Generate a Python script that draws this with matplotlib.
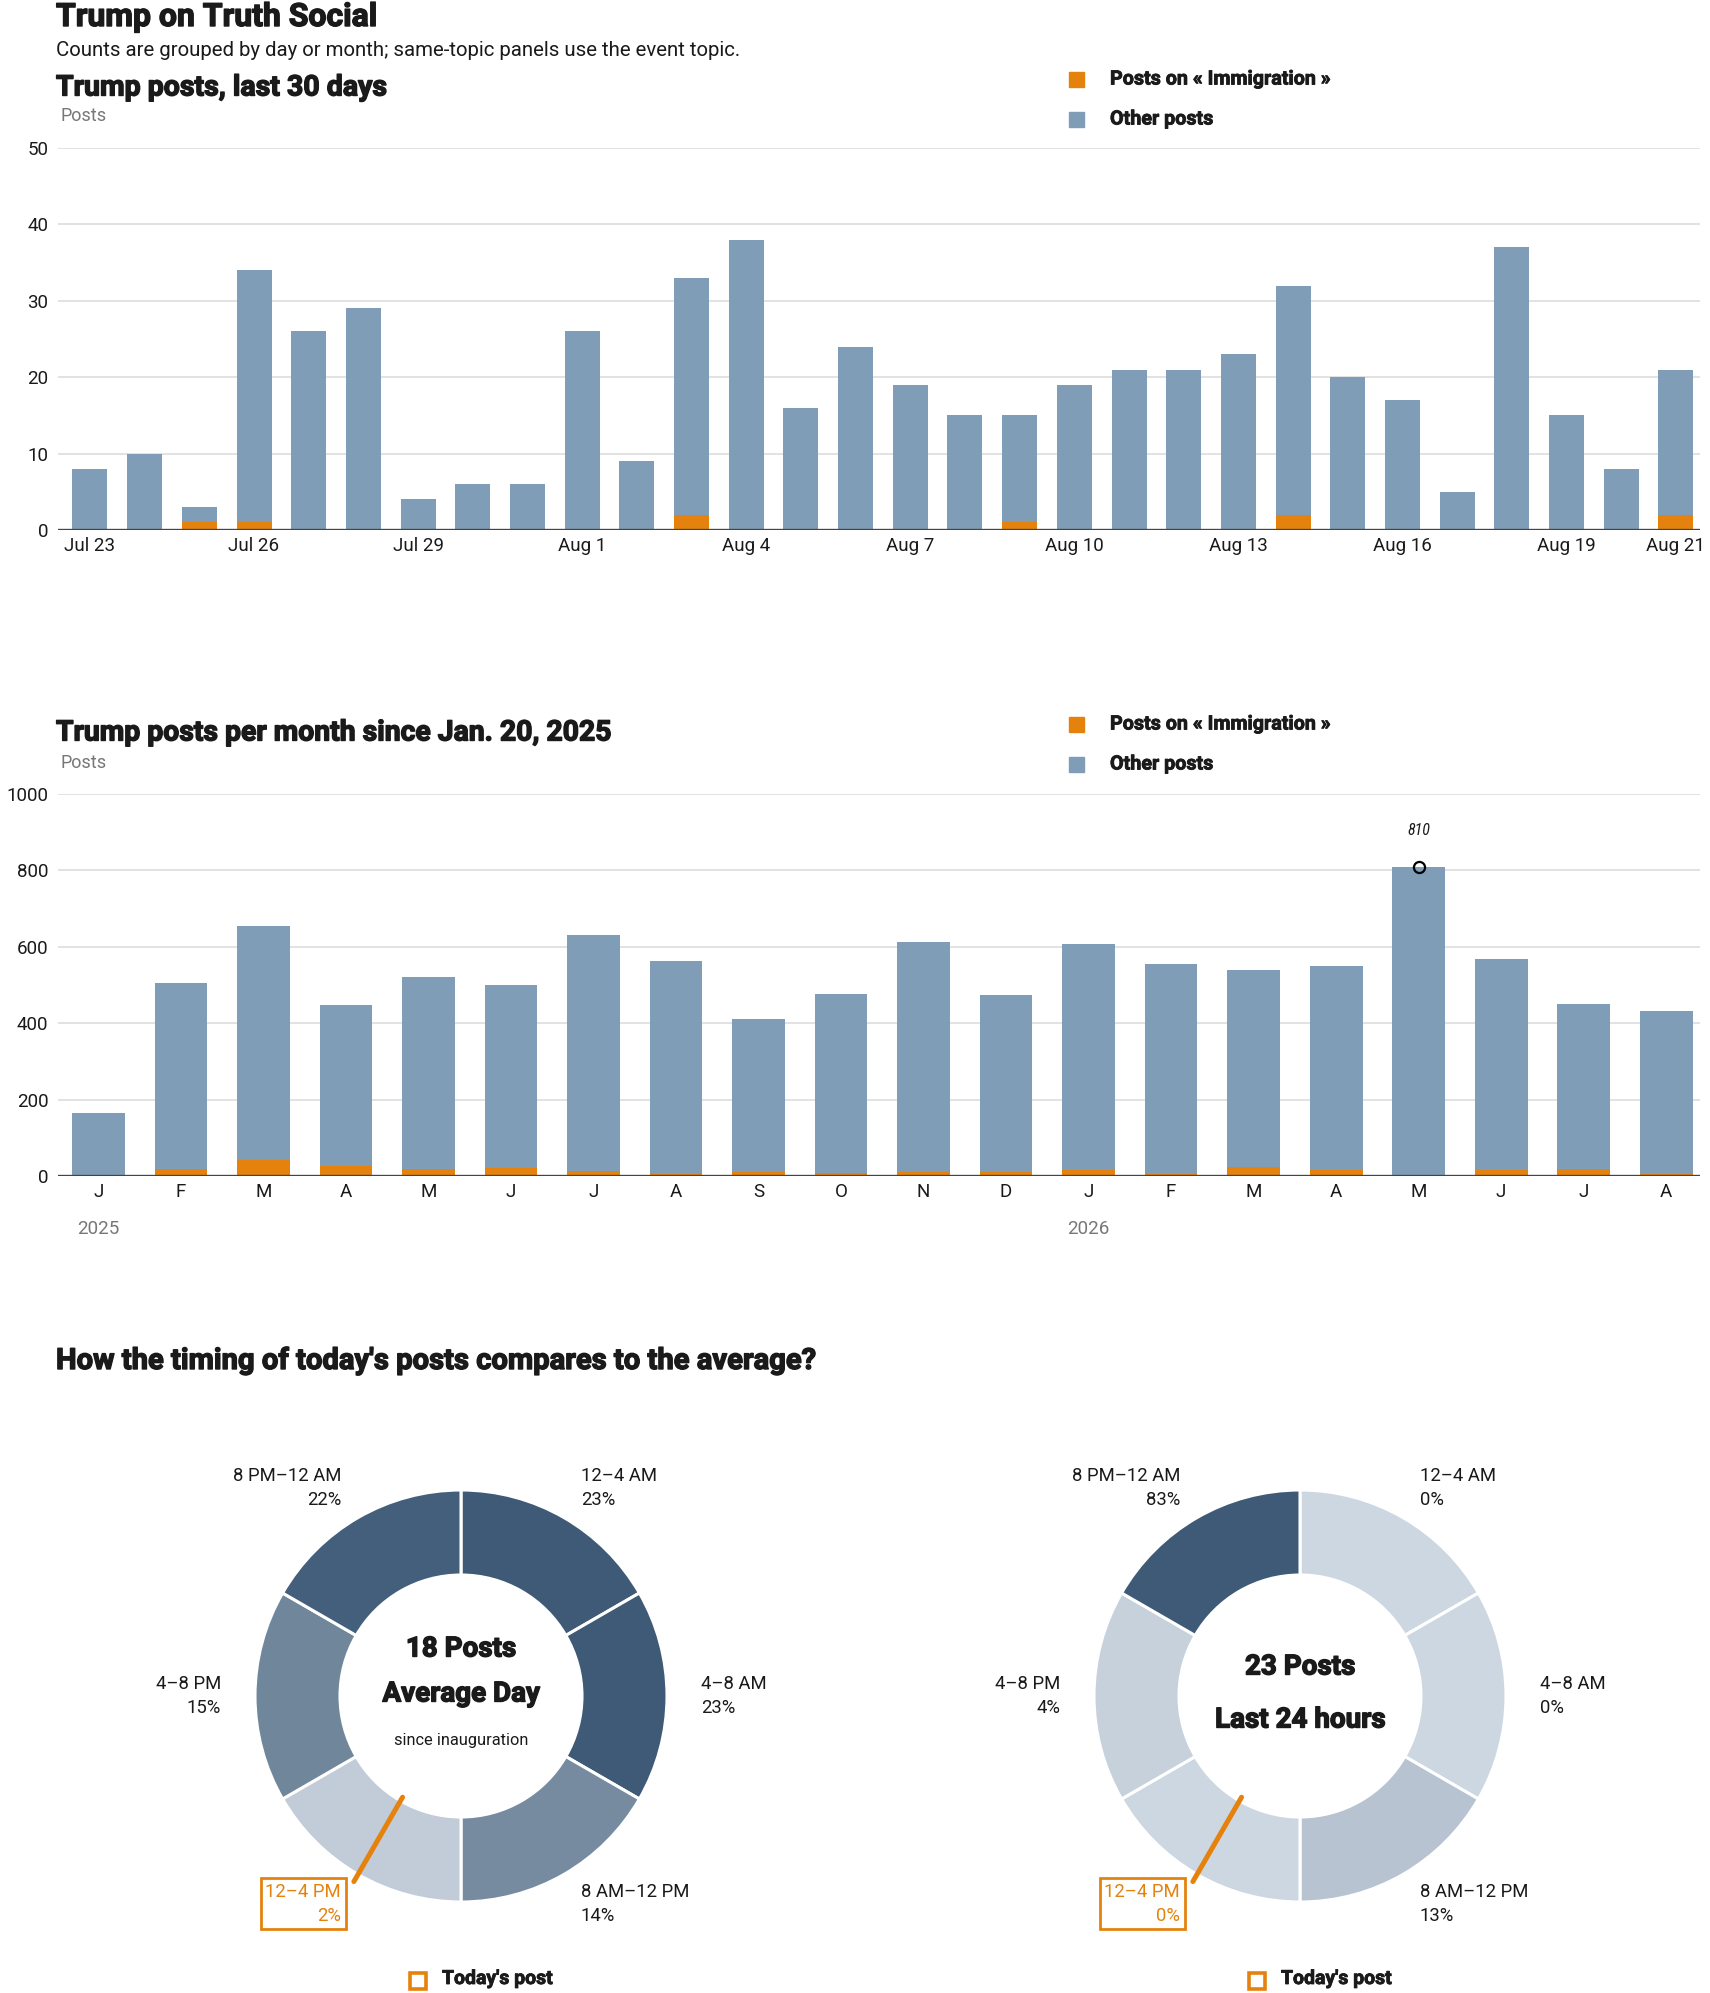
import numpy as np
import matplotlib
matplotlib.use("Agg")
import matplotlib.pyplot as plt
import matplotlib.patheffects as pe
from matplotlib import font_manager
from matplotlib.colors import LinearSegmentedColormap
from matplotlib.patches import Rectangle

# --- données -----------------------------------------------------------------
day_labels = ["Jul 23", "Jul 24", "Jul 25", "Jul 26", "Jul 27", "Jul 28", "Jul 29",
              "Jul 30", "Jul 31", "Aug 1", "Aug 2", "Aug 3", "Aug 4", "Aug 5",
              "Aug 6", "Aug 7", "Aug 8", "Aug 9", "Aug 10", "Aug 11", "Aug 12",
              "Aug 13", "Aug 14", "Aug 15", "Aug 16", "Aug 17", "Aug 18", "Aug 19",
              "Aug 20", "Aug 21"]
day_total = [8, 10, 3, 34, 26, 29, 4, 6, 6, 26, 9, 33, 38, 16, 24,
             19, 15, 15, 19, 21, 21, 23, 32, 20, 17, 5, 37, 15, 8, 21]
day_immig = [0, 0, 1, 1, 0, 0, 0, 0, 0, 0, 0, 2, 0, 0, 0,
             0, 0, 1, 0, 0, 0, 0, 2, 0, 0, 0, 0, 0, 0, 2]
day_ticks = ["Jul 23", "Jul 26", "Jul 29", "Aug 1", "Aug 4", "Aug 7",
             "Aug 10", "Aug 13", "Aug 16", "Aug 19", "Aug 21"]

month_labels = ["J", "F", "M", "A", "M", "J", "J", "A", "S", "O",
                "N", "D", "J", "F", "M", "A", "M", "J", "J", "A"]
month_total = [165, 504, 654, 447, 520, 499, 630, 562, 412, 477,
               612, 473, 607, 556, 538, 549, 810, 567, 451, 433]
month_immig = [2, 19, 43, 26, 19, 21, 13, 6, 11, 8,
               11, 11, 17, 6, 24, 17, 0, 17, 19, 6]
year_labels = ["2025", "2026"]
year_start = [0, 12]

slots = ["12–4 AM", "4–8 AM", "8 AM–12 PM", "12–4 PM", "4–8 PM", "8 PM–12 AM"]
avg_share = [23, 23, 14, 2, 15, 22]
today_share = [0, 0, 13, 0, 4, 83]
avg_posts = 18
today_posts = 23
today_post_hour = 14

BLUE = "#809db8"
ORANGE = "#e5820e"
GRID = "#dddddd"
INK = "#1a1a1a"
GRAY = "#777777"

# --- polices -----------------------------------------------------------------
_names = {f.name for f in font_manager.fontManager.ttflist}


def pick(*cands):
    for c in cands:
        if c in _names:
            return c
    return "DejaVu Sans"


BODY = pick("Roboto", "Liberation Sans", "DejaVu Sans")
HEAVY = pick("Roboto", "Liberation Sans", "DejaVu Sans")
NARROW = pick("Roboto Condensed", "Liberation Sans Narrow", "DejaVu Sans")
plt.rcParams["font.family"] = [BODY, "DejaVu Sans"]

# trait un peu épaissi pour imiter la graisse « heavy » des titres
THICK = [pe.withStroke(linewidth=1.0, foreground=INK)]
THICK_S = [pe.withStroke(linewidth=0.6, foreground=INK)]

W, H = 1710, 1993
fig = plt.figure(figsize=(W / 100, H / 100), dpi=100)
fig.patch.set_facecolor("white")


def fx(x):
    return x / W


def fy(y):
    return 1 - y / H


def add_axes_px(left, top, right, bottom):
    return fig.add_axes([fx(left), fy(bottom), (right - left) / W, (bottom - top) / H])


def heavy_text(x, y, s, size, **kw):
    fig.text(fx(x), fy(y), s, fontsize=size, fontweight="bold", family=HEAVY,
             color=INK, va="center", path_effects=THICK, **kw)


def legend_block(y1, y2):
    for y, col, lab in [(y1, ORANGE, "Posts on « Immigration »"), (y2, BLUE, "Other posts")]:
        fig.add_artist(Rectangle((fx(1069), fy(y + 8)), 15 / W, 15 / H,
                                 transform=fig.transFigure, color=col))
        fig.text(fx(1110), fy(y), lab, fontsize=14.2, fontweight="bold",
                 family=HEAVY, color=INK, va="center", path_effects=THICK_S)


def style_bar_axes(ax, top):
    ax.set_ylim(0, top)
    for s in ax.spines.values():
        s.set_visible(False)
    ax.grid(axis="y", color=GRID, linewidth=1.2)
    ax.set_axisbelow(True)
    ax.axhline(0, color="#444444", linewidth=2.4, zorder=5)
    ax.tick_params(axis="both", length=0, labelsize=13.5, colors=INK)
    ax.tick_params(axis="y", pad=7)
    ax.tick_params(axis="x", pad=5)


# --- en-tête ------------------------------------------------------------------
heavy_text(56, 17, "Trump on Truth Social", 23)
fig.text(fx(56), fy(51), "Counts are grouped by day or month; same-topic panels use the event topic.",
         fontsize=14.7, color=INK, va="center")

# --- graphique 1 : 30 derniers jours -------------------------------------------
heavy_text(56, 88, "Trump posts, last 30 days", 20.5)
fig.text(fx(60), fy(116), "Posts", fontsize=13, color=GRAY, va="center")
legend_block(79, 119)

ax1 = add_axes_px(58, 148, 1700, 530)
x1 = np.arange(len(day_total))
d_imm = np.array(day_immig)
d_other = np.array(day_total) - d_imm
ax1.bar(x1, d_imm, width=0.64, color=ORANGE, zorder=2)
ax1.bar(x1, d_other, bottom=d_imm, width=0.64, color=BLUE, zorder=2)
style_bar_axes(ax1, 50)
ax1.set_yticks(range(0, 51, 10))
ax1.set_xlim(-0.585, len(day_total) - 0.56)
ax1.set_xticks([day_labels.index(t) for t in day_ticks])
ax1.set_xticklabels(day_ticks)

# --- graphique 2 : par mois ----------------------------------------------------
heavy_text(56, 733, "Trump posts per month since Jan. 20, 2025", 20.4)
fig.text(fx(60), fy(763), "Posts", fontsize=13, color=GRAY, va="center")
legend_block(724, 764)

ax2 = add_axes_px(58, 794, 1700, 1176)
x2 = np.arange(len(month_total))
m_imm = np.array(month_immig)
m_other = np.array(month_total) - m_imm
ax2.bar(x2, m_imm, width=0.64, color=ORANGE, zorder=2)
ax2.bar(x2, m_other, bottom=m_imm, width=0.64, color=BLUE, zorder=2)
style_bar_axes(ax2, 1000)
ax2.set_yticks(range(0, 1001, 200))
ax2.set_xlim(-0.49, len(month_total) - 0.59)
ax2.set_xticks(x2)
ax2.set_xticklabels(month_labels)
for lab, i in zip(year_labels, year_start):
    ax2.text(i, -0.14, lab, transform=ax2.get_xaxis_transform(), ha="center",
             va="center", fontsize=13.5, color=GRAY)
i_max = int(np.argmax(month_total))
ax2.plot(i_max, month_total[i_max], marker="o", ms=8, mfc="none", mec="black",
         mew=1.6, zorder=6, clip_on=False)
ax2.annotate(f"{month_total[i_max]}", xy=(i_max, month_total[i_max]), xytext=(0, 26),
             textcoords="offset points", ha="center", va="center", fontsize=11.5,
             fontstyle="italic", family=NARROW, color=INK)

# --- graphique 3 : donuts ------------------------------------------------------
heavy_text(56, 1361, "How the timing of today's posts compares to the average?", 21)

cmap = LinearSegmentedColormap.from_list("slots", ["#cdd7e1", "#3e5a76"])
R_OUT, R_IN = 206, 121
LIM = 1.3


def donut(cx, cy, shares, center_lines):
    side = 2 * LIM * R_OUT
    ax = add_axes_px(cx - side / 2, cy - side / 2, cx + side / 2, cy + side / 2)
    shares = np.array(shares, dtype=float)
    colors = cmap(shares / shares.max())
    ax.pie(np.ones(len(slots)), colors=colors, startangle=90, counterclock=False,
           radius=1, wedgeprops=dict(width=1 - R_IN / R_OUT, edgecolor="white", linewidth=2.2))
    ax.set_xlim(-LIM, LIM)
    ax.set_ylim(-LIM, LIM)
    ax.set_aspect("equal")
    ax.axis("off")

    hl = int(today_post_hour // 4)
    for i, (slot, sh) in enumerate(zip(slots, shares)):
        clock = 30 + 60 * i
        a = np.deg2rad(90 - clock)
        px, py = 1.165 * np.cos(a), 1.165 * np.sin(a)
        ha = "left" if np.cos(a) > 0.01 else "right"
        kw = dict(ha=ha, va="center", multialignment=ha, fontsize=13.3, linespacing=1.4)
        if i == hl:
            ax.text(px, py, f"{slot}\n{sh:.0f}%", color=ORANGE,
                    bbox=dict(boxstyle="square,pad=0.25", fc="white", ec=ORANGE, lw=2), **kw)
        else:
            ax.text(px, py, f"{slot}\n{sh:.0f}%", color=INK, **kw)

    a = np.deg2rad(90 - today_post_hour / 24 * 360)
    r0, r1 = R_IN / R_OUT - 0.02, 1.04
    ax.plot([r0 * np.cos(a), r1 * np.cos(a)], [r0 * np.sin(a), r1 * np.sin(a)],
            color=ORANGE, lw=3.6, solid_capstyle="round", zorder=5)

    for y, txt, size, bold in center_lines:
        ax.text(0, (cy - y) / R_OUT, txt, ha="center", va="center", fontsize=size,
                fontweight="bold" if bold else "normal", family=HEAVY if bold else BODY,
                color=INK, path_effects=THICK if bold else None)

    # légende « Today's post »
    fig.add_artist(Rectangle((fx(cx - 51), fy(1989)), 16 / W, 16 / H, transform=fig.transFigure,
                             fill=False, ec=ORANGE, lw=2.6))
    fig.text(fx(cx - 19), fy(1979), "Today's post", fontsize=14, fontweight="bold",
             family=HEAVY, color=INK, va="center", path_effects=THICK_S)


donut(461, 1696, avg_share, [
    (1649, f"{avg_posts} Posts", 20, True),
    (1694, "Average Day", 20, True),
    (1741, "since inauguration", 11.8, False),
])
donut(1300, 1696, today_share, [
    (1667, f"{today_posts} Posts", 20, True),
    (1720, "Last 24 hours", 20, True),
])

fig.savefig("out.png", dpi=100, facecolor="white")
